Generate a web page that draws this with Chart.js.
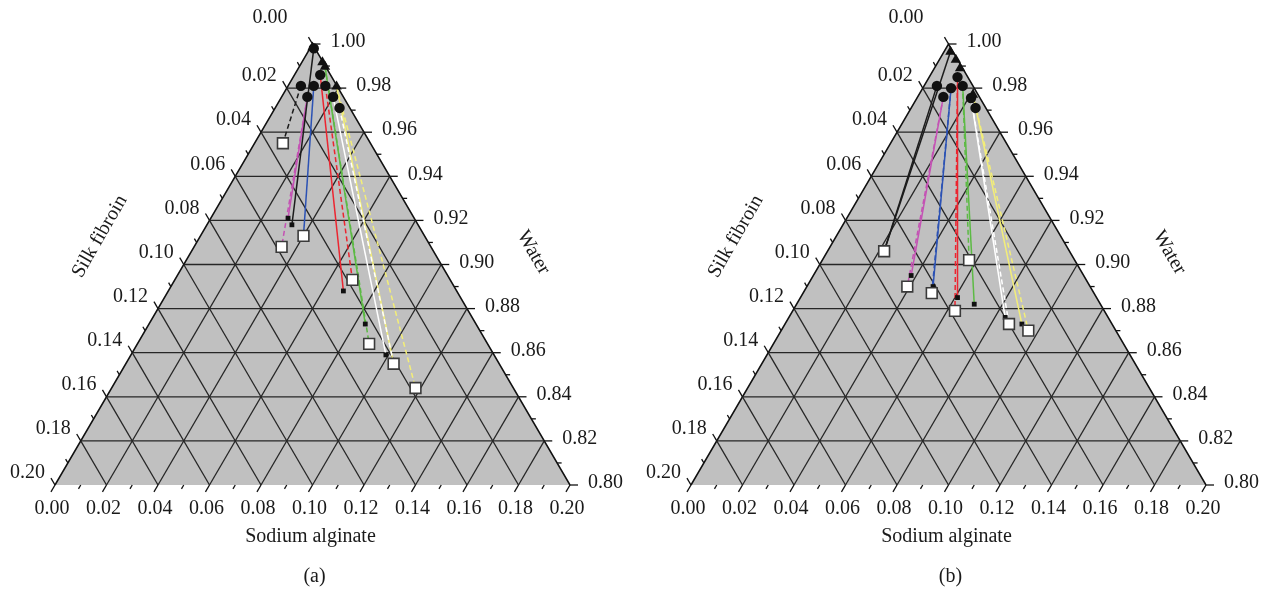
<!DOCTYPE html>
<html>
<head>
<meta charset="utf-8">
<script src="https://cdn.jsdelivr.net/npm/chart.js"></script>
<style>
  body { margin: 0; background: #fff; }
  .panel { position: absolute; top: 0; }
</style>
</head>
<body>
<canvas id="chart-a" class="panel" width="636" height="593" style="left:0"></canvas>
<canvas id="chart-b" class="panel" width="627" height="593" style="left:636px"></canvas>
<script>
  // Compositions are [sodium alginate, silk fibroin]; water makes up the rest
  const sodiumTicks = ['0.00', '0.02', '0.04', '0.06', '0.08', '0.10', '0.12', '0.14', '0.16', '0.18', '0.20'];
  const fibroinTicks = ['0.00', '0.02', '0.04', '0.06', '0.08', '0.10', '0.12', '0.14', '0.16', '0.18', '0.20'];
  const waterTicks = ['1.00', '0.98', '0.96', '0.94', '0.92', '0.90', '0.88', '0.86', '0.84', '0.82', '0.80'];

  // (a)
  const circlesA = [[0.0015, 0.0005], [0.010, 0.004], [0.005, 0.014], [0.010, 0.009], [0.0145, 0.0045], [0.010, 0.014], [0.020, 0.004], [0.025, 0.004]];
  const trianglesA = [[0.0008, 0.0008], [0.008, 0.0003], [0.010, 0.0003], [0.019, 0.0003]];
  const openSquaresA = [[0.011, 0.034], [0.034, 0.058], [0.040, 0.047], [0.069, 0.038], [0.090, 0.046], [0.104, 0.041], [0.118, 0.038]];
  const smallSquaresA = [[0.030, 0.049], [0.033, 0.049], [0.068, 0.044], [0.084, 0.043], [0.099, 0.042]];
  const tiesA = [
    ['black', true, [0.005, 0.014], [0.011, 0.034]],
    ['black', false, [0.0015, 0.0005], [0.033, 0.049]],
    ['magenta', false, [0.010, 0.014], [0.030, 0.049]],
    ['magenta', true, [0.010, 0.014], [0.034, 0.058]],
    ['blue', false, [0.010, 0.009], [0.040, 0.047]],
    ['red', false, [0.010, 0.004], [0.068, 0.044]],
    ['red', true, [0.0145, 0.0045], [0.069, 0.038]],
    ['green', false, [0.010, 0.0003], [0.084, 0.043]],
    ['green', true, [0.010, 0.0003], [0.090, 0.046]],
    ['white', false, [0.020, 0.004], [0.099, 0.042]],
    ['white', true, [0.025, 0.004], [0.104, 0.041]],
    ['yellow', false, [0.019, 0.0003], [0.104, 0.041]],
    ['yellow', true, [0.019, 0.0003], [0.118, 0.038]]
  ];

  // (b)
  const circlesB = [[0.011, 0.004], [0.005, 0.014], [0.011, 0.009], [0.015, 0.004], [0.010, 0.014], [0.021, 0.0035], [0.025, 0.004]];
  const trianglesB = [[0.0025, 0.001], [0.0064, 0.0007], [0.010, 0.001], [0.021, 0.002]];
  const openSquaresB = [[0.022, 0.072], [0.039, 0.071], [0.050, 0.063], [0.063, 0.058], [0.057, 0.041], [0.087, 0.040], [0.096, 0.034]];
  const smallSquaresB = [[0.038, 0.067], [0.049, 0.061], [0.061, 0.054], [0.069, 0.049], [0.084, 0.040], [0.092, 0.035]];
  const tiesB = [
    ['black', false, [0.0025, 0.001], [0.022, 0.072]],
    ['black', false, [0.005, 0.014], [0.022, 0.072]],
    ['magenta', false, [0.010, 0.014], [0.038, 0.067]],
    ['magenta', true, [0.010, 0.014], [0.039, 0.071]],
    ['blue', false, [0.011, 0.009], [0.049, 0.061]],
    ['blue', true, [0.011, 0.009], [0.050, 0.063]],
    ['red', false, [0.011, 0.004], [0.061, 0.054]],
    ['red', true, [0.011, 0.004], [0.063, 0.058]],
    ['green', false, [0.015, 0.004], [0.069, 0.049]],
    ['green', true, [0.015, 0.004], [0.057, 0.041]],
    ['white', false, [0.021, 0.0035], [0.084, 0.040]],
    ['white', true, [0.021, 0.0035], [0.087, 0.040]],
    ['yellow', false, [0.021, 0.002], [0.092, 0.035]],
    ['yellow', true, [0.021, 0.002], [0.096, 0.034]]
  ];

  const tieColors = {
    black: '#1c1c1c', magenta: '#c452b4', blue: '#2c52b4', red: '#ec2530',
    green: '#5cba44', white: '#ffffff', yellow: '#f3ee78'
  };
  const FONT = '20px "Liberation Serif", "DejaVu Serif", serif';

  // triangle on the canvas: base from x=55 to x=570 at y=485, apex at y=44
  const LEFT = 55, BASE = 485, H = Math.sqrt(3) / 2;
  const XS = 515, YS = 441 / H;

  // ternary -> cartesian, base of the triangle runs 0..1
  const toXY = ([sa, sf]) => {
    const top = (1 - sa - sf - 0.8) / 0.2;
    return { x: sa / 0.2 + top / 2, y: top * H };
  };

  const gridLines = () => {
    let lines = [];
    for (let k = 1; k < 10; k++) {
      let v = k * 0.02;
      lines.push([[0, v], [0.2 - v, v]]);   // silk fibroin constant
      lines.push([[v, 0.2 - v], [v, 0]]);   // sodium alginate constant
      lines.push([[0, 0.2 - v], [0.2 - v, 0]]); // water constant
    }
    return lines;
  };

  const unit = (a, b) => {
    let dx = b[0] - a[0], dy = b[1] - a[1], n = Math.hypot(dx, dy);
    return [dx / n, dy / n];
  };

  const ternaryAxes = {
    id: 'ternaryAxes',
    afterDatasetsDraw(chart, args, opts) {
      const { ctx, scales: { x, y } } = chart;
      const pix = c => { let p = toXY(c); return [x.getPixelForValue(p.x), y.getPixelForValue(p.y)]; };
      const seg = (x0, y0, x1, y1) => { ctx.beginPath(); ctx.moveTo(x0, y0); ctx.lineTo(x1, y1); ctx.stroke(); };
      const bl = pix([0, 0.2]), br = pix([0.2, 0]), apex = pix([0, 0]);
      const downLeft = unit(apex, bl), upLeft = unit(br, apex);
      ctx.save();
      ctx.strokeStyle = '#111';
      ctx.lineWidth = 1.3;
      ctx.fillStyle = '#1a1a1a';
      ctx.font = FONT;
      for (let j = 0; j <= 20; j++) {
        let v = j / 100;
        let major = j % 2 === 0;
        let len = major ? 8 : 4.5;
        let [bx, by] = pix([v, 0.2 - v]);
        let [lx, ly] = pix([0, v]);
        let [rx, ry] = pix([v, 0]);
        seg(bx, by, bx + downLeft[0] * len, by + downLeft[1] * len);
        seg(lx, ly, lx + upLeft[0] * len, ly + upLeft[1] * len);
        seg(rx, ry, rx + len, ry);
        if (!major) continue;
        ctx.textBaseline = 'middle';
        ctx.textAlign = 'center';
        ctx.fillText(sodiumTicks[j / 2], bx - 3, by + 24);
        ctx.textAlign = 'right';
        // the top label sits clear of the water label at the apex
        if (j === 0) ctx.fillText(fibroinTicks[0], lx - 25, ly - 26);
        else ctx.fillText(fibroinTicks[j / 2], lx - 10, ly - 12);
        ctx.textAlign = 'left';
        ctx.fillText(waterTicks[j / 2], rx + 18, ry - 2);
      }
      // axis titles
      let [cx, cy] = pix([0.1, 0.1]);
      ctx.textAlign = 'center';
      ctx.fillText('Sodium alginate', cx - 2, cy + 52);
      ctx.fillText(opts.caption, cx + 2, cy + 92);
      let [sx, sy] = pix([0, 0.1]);
      ctx.save();
      ctx.translate(sx - 84, sy - 28);
      ctx.rotate(-Math.PI / 3);
      ctx.fillText('Silk fibroin', 0, 0);
      ctx.restore();
      let [wx, wy] = pix([0.1, 0]);
      ctx.save();
      ctx.translate(wx + 92, wy - 12);
      ctx.rotate(Math.PI / 3);
      ctx.fillText('Water', 0, 0);
      ctx.restore();
      ctx.restore();
    }
  };

  const makeChart = (id, ties, circles, triangles, openSquares, smallSquares, caption) => {
    let canvas = document.getElementById(id);
    let datasets = [];
    // grey triangle, filled down to the base line y = 0
    datasets.push({
      type: 'line',
      data: [[0, 0.2], [0, 0], [0.2, 0]].map(toXY),
      fill: 'origin',
      backgroundColor: '#c0c0c0',
      borderColor: '#111',
      borderWidth: 1.5,
      pointRadius: 0,
      order: 20
    });
    gridLines().forEach(l => datasets.push({
      data: l.map(toXY), showLine: true, borderColor: '#262626', borderWidth: 1.3, pointRadius: 0, order: 15
    }));
    ties.forEach(([color, dashed, from, to]) => datasets.push({
      data: [from, to].map(toXY), showLine: true, borderColor: tieColors[color], borderWidth: 1.5,
      borderDash: dashed ? [5, 3] : [], pointRadius: 0, order: 10
    }));
    datasets.push({ data: smallSquares.map(toXY), pointStyle: 'rect', pointRadius: 3.4, backgroundColor: '#111', borderWidth: 0, order: 4 });
    datasets.push({ data: openSquares.map(toXY), pointStyle: 'rect', pointRadius: 7.6, backgroundColor: '#fff', borderColor: '#3a3a3a', borderWidth: 1.6, order: 3 });
    datasets.push({ data: circles.map(toXY), pointStyle: 'circle', pointRadius: 5.2, backgroundColor: '#111', borderWidth: 0, order: 2 });
    datasets.push({ data: triangles.map(toXY), pointStyle: 'triangle', pointRadius: 6, backgroundColor: '#111', borderWidth: 0, order: 1 });

    return new Chart(canvas, {
      type: 'scatter',
      data: { datasets: datasets },
      options: {
        responsive: false,
        animation: false,
        devicePixelRatio: 1,
        layout: { padding: 0, autoPadding: false },
        scales: {
          x: { type: 'linear', display: false, min: -LEFT / XS, max: (canvas.width - LEFT) / XS },
          y: { type: 'linear', display: false, min: -(canvas.height - BASE) / YS, max: BASE / YS }
        },
        plugins: {
          legend: { display: false },
          tooltip: { enabled: false },
          ternaryAxes: { caption: caption }
        }
      },
      plugins: [ternaryAxes]
    });
  };

  makeChart('chart-a', tiesA, circlesA, trianglesA, openSquaresA, smallSquaresA, '(a)');
  makeChart('chart-b', tiesB, circlesB, trianglesB, openSquaresB, smallSquaresB, '(b)');
</script>
</body>
</html>
